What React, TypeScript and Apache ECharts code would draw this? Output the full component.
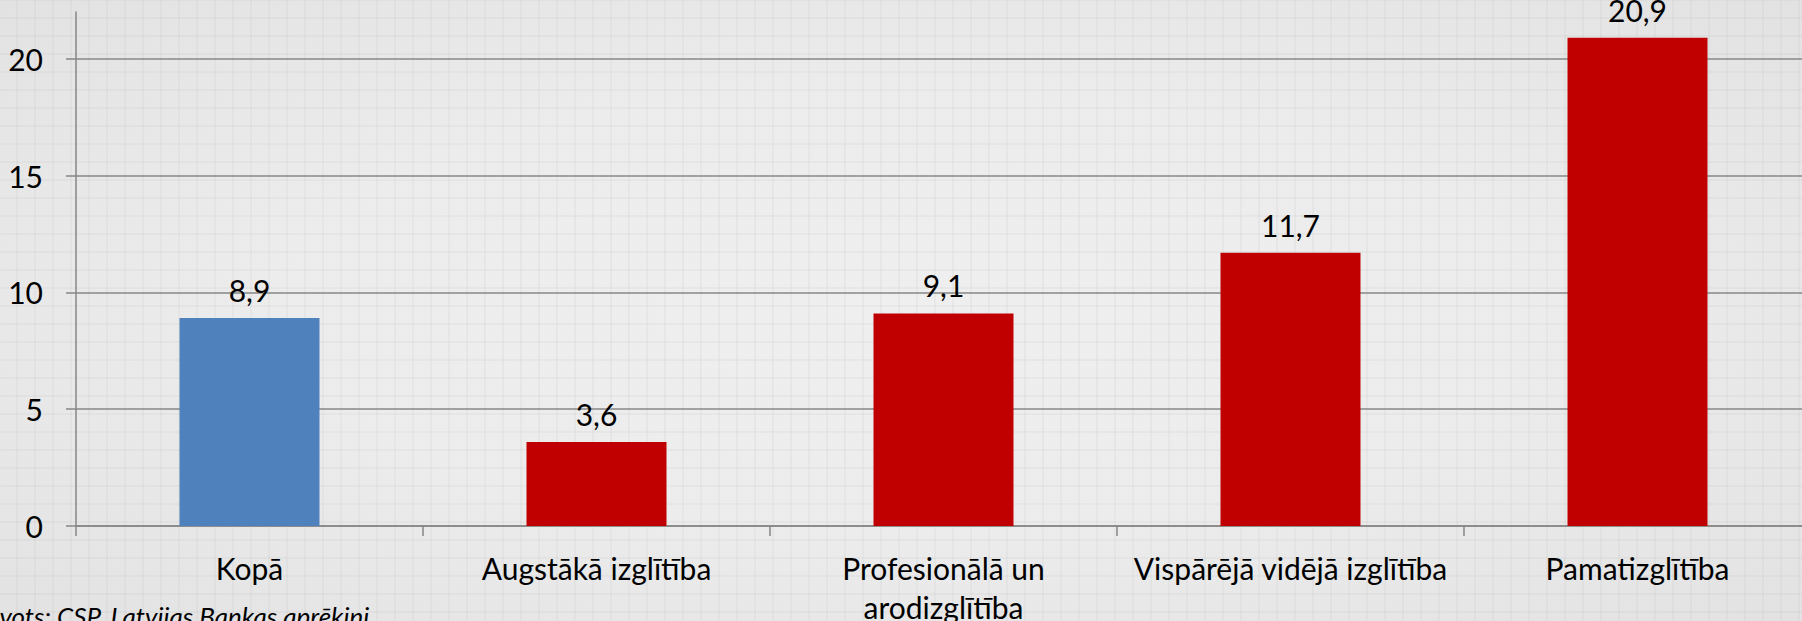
import React, { useEffect, useRef } from "react";
import * as echarts from "echarts";

const categories = [
  "Kopā",
  "Augstākā izglītība",
  "Profesionālā un\narodizglītība",
  "Vispārējā vidējā izglītība",
  "Pamatizglītība",
];
const values = [8.9, 3.6, 9.1, 11.7, 20.9];
const yTicks = [0, 5, 10, 15, 20];
const sourceText = "Avots: CSP, Latvijas Bankas aprēķini";

const FONT = "Lato, 'Open Sans', sans-serif";

export default function App() {
  const ref = useRef<HTMLDivElement>(null);

  useEffect(() => {
    if (!ref.current) return;
    const chart = echarts.init(ref.current, undefined, { renderer: "svg" });
    const axisColor = "#868686";
    chart.setOption({
      animation: false,
      backgroundColor: "transparent",
      grid: {
        left: 76,
        width: 1735,
        top: 12,
        bottom: 95,
        containLabel: false,
        outerBoundsMode: "none",
      },
      xAxis: {
        type: "category",
        data: categories,
        axisLine: { show: true, lineStyle: { color: axisColor, width: 1.5 } },
        axisTick: { show: true, length: 10, lineStyle: { color: axisColor, width: 1.5 } },
        axisLabel: {
          interval: 0,
          margin: 22,
          fontSize: 30,
          lineHeight: 39,
          fontFamily: FONT,
          color: "#000",
        },
        splitLine: { show: false },
      },
      yAxis: {
        type: "value",
        min: 0,
        max: 22,
        interval: 5,
        axisLine: { show: true, lineStyle: { color: axisColor, width: 1.5 } },
        axisTick: {
          show: true,
          length: 10,
          customValues: yTicks,
          lineStyle: { color: axisColor, width: 1.5 },
        },
        axisLabel: {
          margin: 33,
          fontSize: 30,
          fontFamily: FONT,
          color: "#000",
          customValues: yTicks,
        },
        splitLine: {
          show: true,
          lineStyle: { color: "#878787", width: 1.5 },
        },
      },
      series: [
        {
          type: "bar",
          barWidth: 140,
          data: values.map((v, i) => ({
            value: v,
            itemStyle: { color: i === 0 ? "#4f81bd" : "#c00000" },
          })),
          label: {
            show: true,
            position: "top",
            distance: 13,
            fontSize: 30,
            fontFamily: FONT,
            color: "#000",
            formatter: (p: any) => String(p.value).replace(".", ","),
          },
        },
      ],
      graphic: [
        {
          type: "text",
          x: -16,
          y: 616,
          style: {
            text: sourceText,
            font: "italic 26px " + FONT,
            fill: "#000",
            verticalAlign: "middle",
          },
        },
      ],
    });
    return () => chart.dispose();
  }, []);

  return (
    <div
      ref={ref}
      style={{
        position: "absolute",
        left: 0,
        top: 0,
        width: 1802,
        height: 621,
        overflow: "hidden",
        backgroundColor: "#e9e9e9",
        backgroundImage:
          "linear-gradient(to right, rgba(0,0,0,0.028) 2px, transparent 2px)," +
          "linear-gradient(to bottom, rgba(0,0,0,0.028) 2px, transparent 2px)," +
          "radial-gradient(ellipse at center, #efefef 0%, #ececec 50%, #e2e2e2 100%)",
        backgroundSize: "18px 18px, 18px 18px, 100% 100%",
        backgroundPosition: "16px 0px, 0px 17px, 0 0",
      }}
    />
  );
}
